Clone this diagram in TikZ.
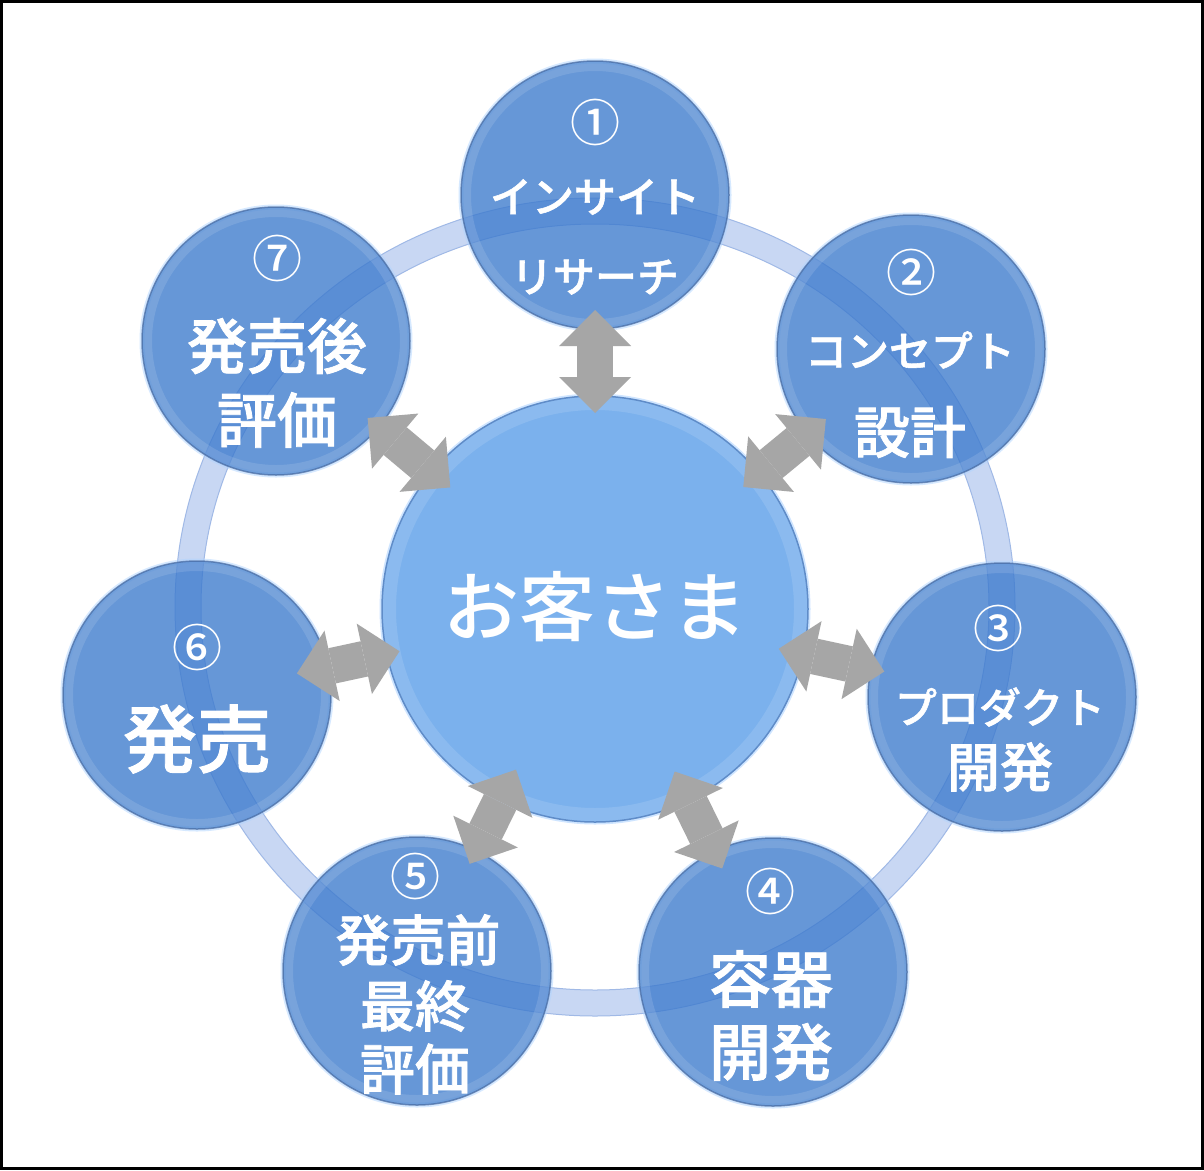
\documentclass[tikz,border=0pt]{standalone}
\usepackage{fontspec}
\newfontfamily\jpfont{Noto Sans CJK JP Medium}
\newfontfamily\jpsemi{Noto Sans CJK JP Medium}[FakeBold=1.3]
\usetikzlibrary{calc,arrows.meta}
\definecolor{ringc}{RGB}{200,215,243}
\definecolor{ringedge}{RGB}{160,185,230}
\definecolor{outerfill}{RGB}{60,122,205}
\definecolor{outeredge}{RGB}{70,105,160}
\definecolor{glowc}{RGB}{175,212,255}
\definecolor{centerfill}{RGB}{123,177,237}
\definecolor{centeredge}{RGB}{95,140,200}
\definecolor{arrowgray}{RGB}{166,166,166}
\tikzset{
  outerc/.style={circle, minimum size=268pt, inner sep=0pt,
    fill=outerfill, fill opacity=0.78, draw=outeredge, draw opacity=0.7, line width=1.5pt,
    preaction={draw=glowc, line width=5pt, draw opacity=0.5},
    path picture={\draw[white, opacity=0.12, line width=10pt] (path picture bounding box.center) circle (129pt);}},
  centerc/.style={circle, minimum size=426pt, inner sep=0pt,
    fill=centerfill, draw=centeredge, line width=1.5pt,
    preaction={draw=glowc, line width=5pt, draw opacity=0.6},
    path picture={\draw[white, opacity=0.12, line width=14pt] (path picture bounding box.center) circle (206pt);}},
  fatarrow/.style={draw=arrowgray, line width=36pt,
    arrows={Triangle[width=72pt,length=36pt,line width=0pt]-Triangle[width=72pt,length=36pt,line width=0pt]}},
  numtxt/.style={text=white, inner sep=0pt, font=\jpfont\fontsize{50}{50}\selectfont},
  katatxt/.style={text=white, inner sep=0pt, font=\jpsemi\fontsize{42}{42}\selectfont},
  kanjitxt/.style={text=white, inner sep=0pt, font=\jpsemi\fontsize{#1}{#1}\selectfont},
  maintxt/.style={text=white, inner sep=0pt, font=\jpfont\fontsize{76}{76}\selectfont},
}
\begin{document}
\begin{tikzpicture}[x=1pt,y=-1pt]
\useasboundingbox (0,0) rectangle (1204,1170);
\fill[white] (0,0) rectangle (1204,1170);
% ring
\coordinate (r0) at (595,607);
\draw[ringc, line width=26pt] (r0) ellipse [x radius=407pt, y radius=396pt];
\draw[ringedge, line width=1pt] (r0) ellipse [x radius=420pt, y radius=409pt];
\draw[ringedge, line width=1pt] (r0) ellipse [x radius=394pt, y radius=383pt];
% outer circles
\node[outerc] (n1) at (595,195) {};
\node[outerc] (n2) at (911,349) {};
\node[outerc] (n3) at (1002,697) {};
\node[outerc] (n4) at (773,972) {};
\node[outerc] (n5) at (417,971) {};
\node[outerc] (n6) at (197,695) {};
\node[outerc] (n7) at (276,341) {};
% center circle
\node[centerc] (c) at (595,609) {};
% arrows
\draw[fatarrow] ($(c)!196pt!(n1)$) -- ($(c)!299pt!(n1)$);
\draw[fatarrow] ($(c)!192pt!(n2)$) -- ($(c)!299pt!(n2)$);
\draw[fatarrow] ($(c)!188pt!(n3)$) -- ($(c)!296pt!(n3)$);
\draw[fatarrow] ($(c)!181pt!(n4)$) -- ($(c)!289pt!(n4)$);
\draw[fatarrow] ($(c)!179pt!(n5)$) -- ($(c)!284pt!(n5)$);
\draw[fatarrow] ($(c)!200pt!(n6)$) -- ($(c)!305pt!(n6)$);
\draw[fatarrow] ($(c)!189pt!(n7)$) -- ($(c)!297pt!(n7)$);
% texts
\node[maintxt] (tc) at (595,607) {お客さま};
\node[numtxt] (t1a) at (595,122) {①};
\node[katatxt] (t1b) at (595,197) {インサイト};
\node[katatxt] (t1c) at (595,277) {リサーチ};
\node[numtxt] (t2a) at (911,272) {②};
\node[katatxt] (t2b) at (910,350) {コンセプト};
\node[kanjitxt=56] (t2c) at (910,432) {設計};
\node[numtxt] (t3a) at (998,628) {③};
\node[katatxt] (t3b) at (1000,707) {プロダクト};
\node[kanjitxt=53] (t3c) at (1000,767) {開発};
\node[numtxt] (t4a) at (770,891) {④};
\node[kanjitxt=62] (t4b) at (771,979) {容器};
\node[kanjitxt=62] (t4c) at (771,1052) {開発};
\node[numtxt] (t5a) at (415,876) {⑤};
\node[kanjitxt=55] (t5b) at (418,940) {発売前};
\node[kanjitxt=55] (t5c) at (415,1006) {最終};
\node[kanjitxt=55] (t5d) at (415,1069) {評価};
\node[numtxt] (t6a) at (197,647) {⑥};
\node[kanjitxt=74] (t6b) at (197,739) {発売};
\node[numtxt] (t7a) at (277,258) {⑦};
\node[kanjitxt=60] (t7b) at (277,346) {発売後};
\node[kanjitxt=60] (t7c) at (277,420) {評価};
% frame
\draw[black, line width=3pt] (1.5,1.5) rectangle (1202.5,1168.5);
\end{tikzpicture}
\end{document}
